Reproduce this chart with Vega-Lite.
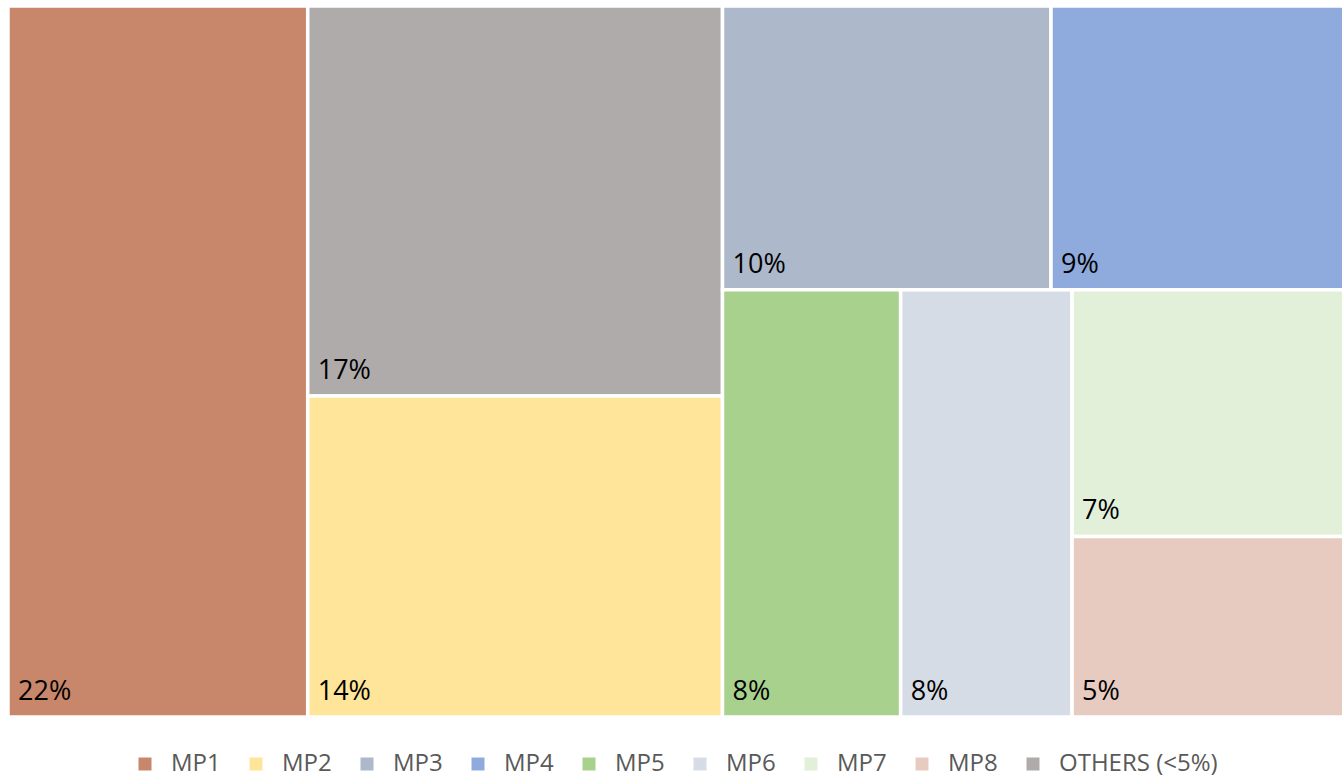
{
  "$schema": "https://vega.github.io/schema/vega-lite/v6.json",
  "width": 1342,
  "height": 777,
  "autosize": {"type": "fit", "contains": "padding"},
  "padding": {"left": 8, "top": 6, "right": 0, "bottom": 1},
  "background": "white",
  "config": {"view": {"stroke": null}, "font": "Open Sans", "legend": {"layout": {"bottom": {"anchor": "middle"}}}},
  "data": {
    "values": [
      {"name": "MP1", "value": 0.224, "c": 1, "r": 1, "k": 1, "m": 1},
      {"name": "OTHERS (<5%)", "value": 0.170, "c": 2, "r": 1, "k": 1, "m": 1},
      {"name": "MP2", "value": 0.140, "c": 2, "r": 2, "k": 1, "m": 1},
      {"name": "MP3", "value": 0.098, "c": 3, "r": 1, "k": 1, "m": 1},
      {"name": "MP4", "value": 0.088, "c": 3, "r": 1, "k": 2, "m": 1},
      {"name": "MP5", "value": 0.080, "c": 3, "r": 2, "k": 1, "m": 1},
      {"name": "MP6", "value": 0.077, "c": 3, "r": 2, "k": 2, "m": 1},
      {"name": "MP7", "value": 0.071, "c": 3, "r": 2, "k": 3, "m": 1},
      {"name": "MP8", "value": 0.052, "c": 3, "r": 2, "k": 3, "m": 2}
    ]
  },
  "transform": [
    {"stack": "value", "groupby": [], "sort": [{"field": "c", "order": "ascending"}], "offset": "normalize", "as": ["cs0", "cs1"]},
    {"joinaggregate": [{"op": "min", "field": "cs0", "as": "a0"}, {"op": "max", "field": "cs1", "as": "a1"}], "groupby": ["c"]},
    {"stack": "value", "groupby": ["c"], "sort": [{"field": "r", "order": "ascending"}], "offset": "normalize", "as": ["rs0", "rs1"]},
    {"joinaggregate": [{"op": "min", "field": "rs0", "as": "c0"}, {"op": "max", "field": "rs1", "as": "c1"}], "groupby": ["c", "r"]},
    {"stack": "value", "groupby": ["c", "r"], "sort": [{"field": "k", "order": "ascending"}], "offset": "normalize", "as": ["ks0", "ks1"]},
    {"joinaggregate": [{"op": "min", "field": "ks0", "as": "b0"}, {"op": "max", "field": "ks1", "as": "b1"}], "groupby": ["c", "r", "k"]},
    {"stack": "value", "groupby": ["c", "r", "k"], "sort": [{"field": "m", "order": "ascending"}], "offset": "normalize", "as": ["d0", "d1"]},
    {"calculate": "datum.a0 + datum.b0 * (datum.a1 - datum.a0)", "as": "x0"},
    {"calculate": "datum.a0 + datum.b1 * (datum.a1 - datum.a0)", "as": "x1"},
    {"calculate": "datum.c0 + datum.d0 * (datum.c1 - datum.c0)", "as": "y0"},
    {"calculate": "datum.c0 + datum.d1 * (datum.c1 - datum.c0)", "as": "y1"}
  ],
  "encoding": {
    "x": {"field": "x0", "type": "quantitative", "scale": {"domain": [0, 0.997], "nice": false, "zero": false}, "axis": null},
    "y": {"field": "y0", "type": "quantitative", "scale": {"domain": [0, 1], "nice": false, "zero": false, "reverse": true}, "axis": null}
  },
  "layer": [
    {
      "mark": {"type": "rect", "stroke": "white", "strokeWidth": 3.5, "clip": true},
      "encoding": {
        "x2": {"field": "x1"},
        "y2": {"field": "y1"},
        "color": {
          "field": "name",
          "type": "nominal",
          "scale": {
            "domain": ["MP1", "MP2", "MP3", "MP4", "MP5", "MP6", "MP7", "MP8", "OTHERS (<5%)"],
            "range": ["#C8876A", "#FFE599", "#ADB9CA", "#8FAADC", "#A9D18E", "#D6DCE5", "#E2EFD9", "#E8CBC0", "#AFABAB"]
          },
          "legend": {
            "title": null,
            "orient": "bottom",
            "direction": "horizontal",
            "symbolType": "square",
            "symbolSize": 169,
            "symbolStrokeWidth": 0,
            "labelFontSize": 24,
            "labelColor": "#595959",
            "labelFont": "Open Sans",
            "labelLimit": 0,
            "labelOffset": 14,
            "columnPadding": 23,
            "offset": 35
          }
        }
      }
    },
    {
      "mark": {"type": "text", "align": "left", "baseline": "alphabetic", "dx": 10, "dy": -17, "fontSize": 27, "color": "black", "font": "Open Sans"},
      "encoding": {
        "y": {"field": "y1", "type": "quantitative"},
        "text": {"field": "value", "type": "quantitative", "format": ".0%"}
      }
    }
  ]
}
